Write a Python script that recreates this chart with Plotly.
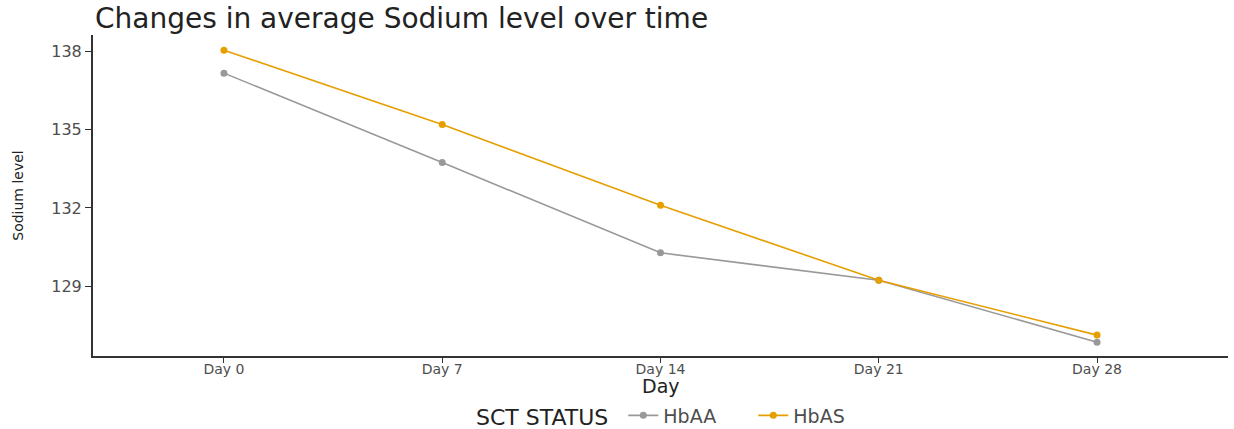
import plotly.graph_objects as go

days = ["Day 0", "Day 7", "Day 14", "Day 21", "Day 28"]
hbaa = [137.16, 133.74, 130.28, 129.23, 126.86]
hbas = [138.04, 135.19, 132.10, 129.23, 127.13]
series_names = ["HbAA", "HbAS"]
colors = ["#999999", "#E69F00"]

FONT = "DejaVu Sans, Liberation Sans, Arial, sans-serif"

fig = go.Figure()
for name, vals, c in zip(series_names, [hbaa, hbas], colors):
    fig.add_trace(go.Scatter(
        x=list(range(len(days))), y=vals, name=name, mode="lines+markers",
        line=dict(color=c, width=1.6), marker=dict(color=c, size=7)))

fig.update_layout(
    width=1234, height=429,
    margin=dict(l=93, r=6, t=35, b=73, autoexpand=False),
    paper_bgcolor="white", plot_bgcolor="white",
    font=dict(family=FONT, color="#4d4d4d"),
    title=dict(text="Changes in average Sodium level over time", x=95/1234, xanchor="left",
               y=1 - 18/429, yanchor="middle", font=dict(size=28, color="#222222")),
    xaxis=dict(tickmode="array", tickvals=list(range(len(days))), ticktext=days,
               range=[-0.6, 4.6], showgrid=False, zeroline=False, automargin=False,
               showline=True, linecolor="#333333", linewidth=2,
               ticks="outside", ticklen=5, tickcolor="#333333",
               ticklabelstandoff=-6,
               tickfont=dict(size=14, color="#4d4d4d")),
    yaxis=dict(tickvals=[129, 132, 135, 138], range=[126.33, 138.62],
               showgrid=False, zeroline=False, automargin=False,
               showline=True, linecolor="#333333", linewidth=2,
               ticks="outside", ticklen=6, tickcolor="#333333",
               tickfont=dict(size=16, color="#4d4d4d"),
               title=dict(text="Sodium level", font=dict(size=14, color="#222222"), standoff=24)),
    legend=dict(orientation="h", x=(474 - 93) / 1135, xanchor="left", y=-60/321, yanchor="middle",
                entrywidth=85,
                title=dict(text="SCT STATUS ", font=dict(size=22, color="#222222")),
                font=dict(size=19, color="#4d4d4d")),
    annotations=[dict(text="Day", xref="paper", yref="paper", x=0.5, y=-30/321,
                      xanchor="center", yanchor="middle", showarrow=False,
                      font=dict(size=19, color="#222222"))],
)
fig.write_html("out.html", post_script="document.body.style.margin='0';",
               config={"displayModeBar": False})
